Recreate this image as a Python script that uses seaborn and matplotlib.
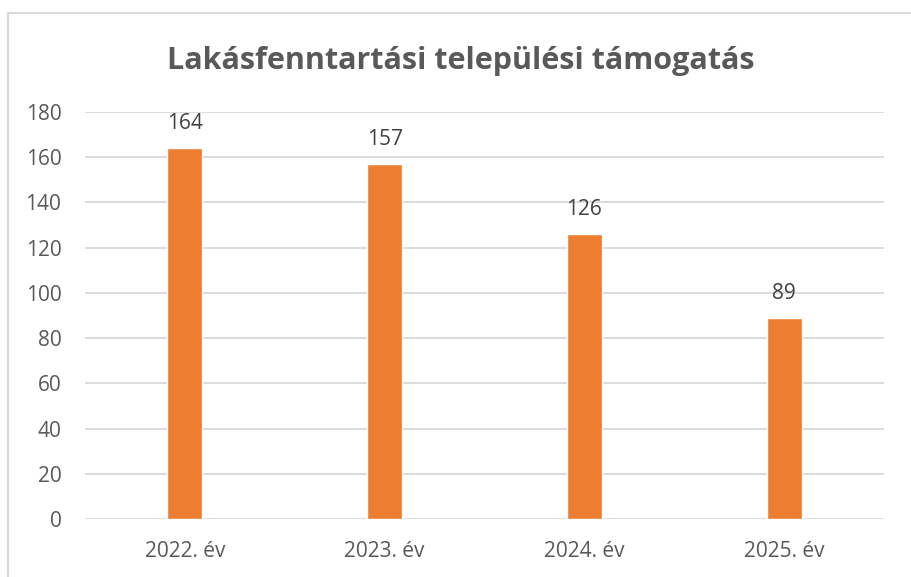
import matplotlib
matplotlib.use("Agg")
import matplotlib.pyplot as plt
import seaborn as sns
import pandas as pd
from matplotlib.patches import Rectangle

categories = ["2022. év", "2023. év", "2024. év", "2025. év"]
values = [164, 157, 126, 89]
yticks = [0, 20, 40, 60, 80, 100, 120, 140, 160, 180]
title = "Lakásfenntartási települési támogatás"

sns.set_theme(style="white")
plt.rcParams['font.family'] = ['Open Sans', 'DejaVu Sans']

W, H = 912, 577
fig = plt.figure(figsize=(W / 100, H / 100), dpi=100)
ax = fig.add_axes([85 / W, (H - 519) / H, (884 - 85) / W, (519 - 112) / H])

df = pd.DataFrame({"cat": categories, "val": values})
sns.barplot(data=df, x="cat", y="val", ax=ax, color="#ED7D31", saturation=1,
            width=0.175, zorder=3)

ax.set_ylim(0, 180)
ax.set_yticks(yticks)
ax.set_xlim(-0.5, 3.5)
ax.grid(axis="y", color="#d9d9d9", linewidth=1.3, zorder=0)
ax.grid(axis="x", visible=False)
for s in ax.spines.values():
    s.set_visible(False)
ax.set_xlabel("")
ax.set_ylabel("")
ax.tick_params(axis="both", length=0, labelsize=15, labelcolor="#595959")
ax.tick_params(axis="y", pad=17)
ax.tick_params(axis="x", pad=16)

for i, v in enumerate(values):
    ax.annotate(str(v), (i, v), xytext=(0, 10), textcoords="offset points",
                ha="center", va="bottom", fontsize=15, color="#404040")

fig.text(461 / W, 1 - 61 / H, title, ha="center", va="center",
         fontsize=22, fontweight="bold", color="#595959")

fig.patches.append(Rectangle((8.5 / W, -0.1), 1.2, 1 - 12.5 / H + 0.1,
                             transform=fig.transFigure, fill=False,
                             edgecolor="#d9d9d9", linewidth=1.5))

fig.savefig("out.png", dpi=100, facecolor="white")
